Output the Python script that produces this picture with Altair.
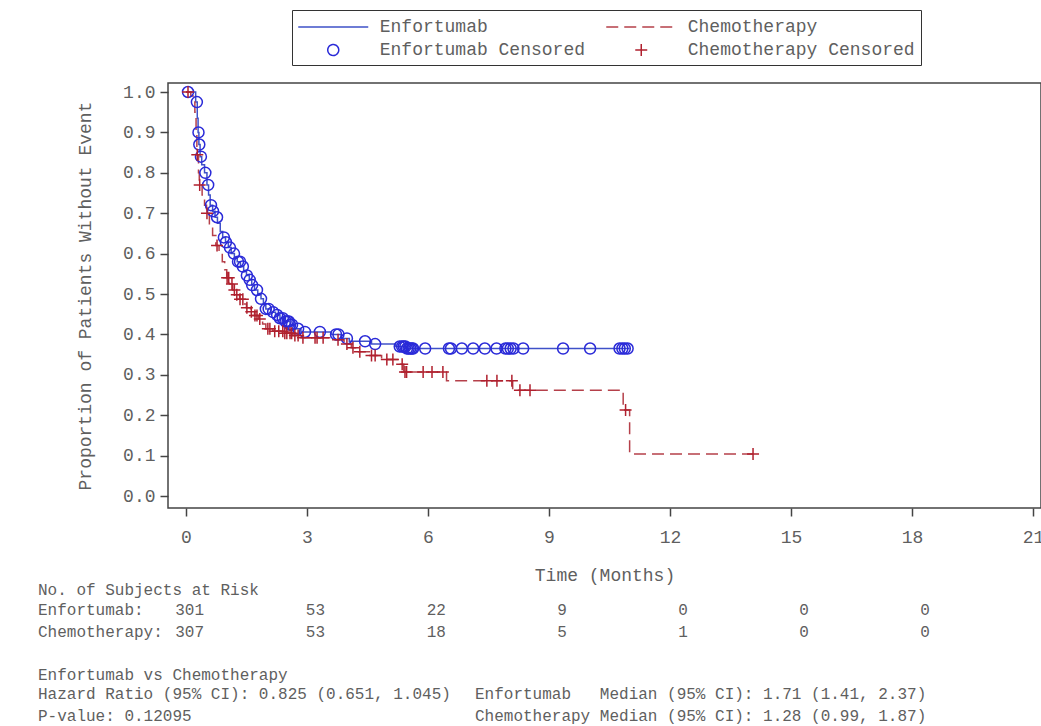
import altair as alt
import pandas as pd

# ---------------- data ----------------
series_names = ["Enfortumab", "Chemotherapy", "Enfortumab Censored", "Chemotherapy Censored"]

enf_time = [0, 0.24, 0.28, 0.30, 0.32, 0.35, 0.39, 0.46, 0.52, 0.56, 0.60, 0.66, 0.72, 0.78,
            0.85, 0.91, 0.98, 1.05, 1.12, 1.20, 1.27, 1.35, 1.43, 1.50, 1.57, 1.63, 1.70, 1.78,
            1.86, 1.92, 1.98, 2.10, 2.22, 2.33, 2.45, 2.58, 2.70, 2.85, 3.60, 3.85, 4.05, 4.60,
            5.20, 5.45, 11.0]
enf_surv = [1.0, 0.975, 0.935, 0.90, 0.87, 0.84, 0.82, 0.80, 0.77, 0.745, 0.72, 0.705, 0.69, 0.675,
            0.655, 0.64, 0.628, 0.615, 0.60, 0.59, 0.58, 0.568, 0.556, 0.546, 0.535, 0.522, 0.51, 0.498,
            0.488, 0.474, 0.463, 0.455, 0.448, 0.44, 0.432, 0.424, 0.414, 0.406, 0.40, 0.39, 0.383, 0.376,
            0.37, 0.365, 0.365]
enf_cens = [0.05, 0.27, 0.31, 0.33, 0.37, 0.48, 0.55, 0.62, 0.67, 0.77, 0.94, 0.99, 1.09, 1.19,
            1.29, 1.34, 1.41, 1.51, 1.58, 1.64, 1.76, 1.86, 1.98, 2.05, 2.16, 2.26, 2.33, 2.40,
            2.47, 2.52, 2.55, 2.58, 2.63, 2.78, 2.95, 3.32, 3.72, 3.78, 3.99, 4.44, 4.69, 5.30,
            5.36, 5.40, 5.44, 5.48, 5.52, 5.56, 5.60, 5.63, 5.93, 6.52, 6.57, 6.84, 7.12, 7.41,
            7.70, 7.92, 7.98, 8.05, 8.12, 8.36, 9.35, 10.02, 10.75, 10.82, 10.88, 10.95]

chemo_time = [0, 0.12, 0.22, 0.25, 0.27, 0.31, 0.33, 0.40, 0.46, 0.51, 0.58, 0.66, 0.74, 0.82,
              0.90, 0.96, 1.01, 1.08, 1.16, 1.24, 1.33, 1.42, 1.50, 1.60, 1.70, 1.80, 1.90, 1.98,
              2.15, 2.45, 2.65, 2.80, 3.70, 3.92, 4.10, 4.28, 4.55, 4.85, 5.25, 5.40, 6.46, 8.10,
              10.84, 11.0, 14.06]
chemo_surv = [1.0, 0.99, 0.95, 0.90, 0.845, 0.80, 0.77, 0.745, 0.72, 0.70, 0.67, 0.645, 0.62, 0.60,
              0.58, 0.56, 0.54, 0.525, 0.51, 0.498, 0.487, 0.475, 0.466, 0.456, 0.447, 0.438, 0.426, 0.414,
              0.408, 0.403, 0.397, 0.392, 0.387, 0.376, 0.367, 0.357, 0.348, 0.338, 0.326, 0.307, 0.285, 0.262,
              0.213, 0.104, 0.104]
chemo_cens = [0.05, 0.28, 0.34, 0.52, 0.77, 1.02, 1.06, 1.14, 1.20, 1.26, 1.34, 1.41, 1.51, 1.62,
              1.71, 1.76, 1.83, 2.03, 2.08, 2.20, 2.30, 2.40, 2.45, 2.50, 2.58, 2.62, 2.70, 2.78,
              2.90, 3.20, 3.25, 3.40, 3.77, 3.99, 4.14, 4.31, 4.60, 4.69, 4.98, 5.13, 5.36, 5.43,
              5.47, 5.88, 6.10, 6.37, 7.46, 7.71, 8.08, 8.28, 8.53, 10.90, 14.06]

risk_times = [0, 3, 6, 9, 12, 15, 18]
risk_enf = [301, 53, 22, 9, 0, 0, 0]
risk_chemo = [307, 53, 18, 5, 1, 0, 0]

x_ticks = [0, 3, 6, 9, 12, 15, 18, 21]
y_ticks = [0.0, 0.1, 0.2, 0.3, 0.4, 0.5, 0.6, 0.7, 0.8, 0.9, 1.0]


def step_value(times, survs, t):
    v = survs[0]
    for tt, ss in zip(times, survs):
        if tt <= t:
            v = ss
        else:
            break
    return v


lines_df = pd.concat([
    pd.DataFrame({"time": enf_time, "surv": enf_surv, "series": "Enfortumab"}),
    pd.DataFrame({"time": chemo_time, "surv": chemo_surv, "series": "Chemotherapy"}),
])
cens_df = pd.concat([
    pd.DataFrame({"time": enf_cens,
                  "surv": [step_value(enf_time, enf_surv, t) for t in enf_cens],
                  "series": "Enfortumab Censored"}),
    pd.DataFrame({"time": chemo_cens,
                  "surv": [step_value(chemo_time, chemo_surv, t) for t in chemo_cens],
                  "series": "Chemotherapy Censored"}),
])
risk_enf_df = pd.DataFrame({"time": risk_times, "n": risk_enf})
risk_chemo_df = pd.DataFrame({"time": risk_times, "n": risk_chemo})

# ---------------- styling ----------------
FONT = "Liberation Mono"
TXT = "#5f5f5f"
W, H = 873, 425

# symbol size 400 -> one path unit = 10 px
LINE = "M-3.5,0H3.5"
CIRC = "M-0.55,0A0.55,0.55 0 1,1 0.55,0A0.55,0.55 0 1,1 -0.55,0Z"
PLUS = "M-0.6,0H0.6M0,-0.6V0.6"

color_scale = alt.Scale(domain=series_names, range=["#3f51c8", "#b5404a", "#2a2ad8", "#b0202e"])
shape_scale = alt.Scale(domain=series_names, range=[LINE, LINE, CIRC, PLUS])
dash_scale = alt.Scale(domain=series_names, range=[[1, 0], [12, 6], [1, 0], [1, 0]])

x_scale = alt.Scale(domain=[-0.446, 21.2], nice=False, zero=False)
y_scale = alt.Scale(domain=[-0.0297, 1.0223], nice=False, zero=False)

x_axis = alt.Axis(values=x_ticks, format="d", title="Time (Months)", grid=False, domain=False,
                  tickSize=8, tickColor="#444", tickWidth=1.5, labelPadding=12,
                  labelFont=FONT, labelFontSize=18, labelColor=TXT,
                  titleFont=FONT, titleFontSize=18, titleColor=TXT, titleFontWeight="normal",
                  titlePadding=20)
y_axis = alt.Axis(values=y_ticks, format=".1f", title="Proportion of Patients Without Event",
                  grid=False, domain=False, tickSize=8, tickColor="#444", tickWidth=1.5,
                  labelPadding=5, labelFont=FONT, labelFontSize=18, labelColor=TXT,
                  titleFont=FONT, titleFontSize=18, titleColor=TXT, titleFontWeight="normal",
                  titlePadding=28)

X = alt.X("time:Q", scale=x_scale, axis=x_axis)
Y = alt.Y("surv:Q", scale=y_scale, axis=y_axis)

lines = alt.Chart(lines_df).mark_line(interpolate="step-after", strokeWidth=1.5).encode(
    x=X, y=Y,
    color=alt.Color("series:N", scale=color_scale, title=None),
    strokeDash=alt.StrokeDash("series:N", scale=dash_scale, title=None),
)

points = alt.Chart(cens_df).mark_point(filled=False, size=400, strokeWidth=1.5, opacity=1).encode(
    x=X, y=Y,
    color=alt.Color("series:N", scale=color_scale, title=None),
    shape=alt.Shape("series:N", scale=shape_scale, title=None),
)

risk_style = dict(align="right", baseline="middle", dx=18, font=FONT, fontSize=16, color=TXT)
risk1 = alt.Chart(risk_enf_df).mark_text(**risk_style).encode(
    x=X, y=alt.value(527), text=alt.Text("n:Q", format="d"))
risk2 = alt.Chart(risk_chemo_df).mark_text(**risk_style).encode(
    x=X, y=alt.value(549), text=alt.Text("n:Q", format="d"))


def note(s, px, py):
    return alt.Chart(pd.DataFrame({"label": [s]})).mark_text(
        align="left", baseline="middle", font=FONT, fontSize=16, color=TXT
    ).encode(x=alt.value(px), y=alt.value(py), text="label:N")


NB = "\u00a0"
notes = [
    note("No. of Subjects at Risk", -130, 507),
    note("Enfortumab:", -130, 527),
    note("Chemotherapy:", -130, 549),
    note("Enfortumab vs Chemotherapy", -130, 592),
    note("Hazard Ratio (95% CI): 0.825 (0.651, 1.045)", -130, 611),
    note("P-value: 0.12095", -130, 633),
    note("Enfortumab" + NB * 3 + "Median (95% CI): 1.71 (1.41, 2.37)", 307, 611),
    note("Chemotherapy Median (95% CI): 1.28 (0.99, 1.87)", 307, 633),
]

chart = alt.layer(lines, points, risk1, risk2, *notes).properties(
    width=W, height=H,
    padding={"left": 168, "top": 83, "right": 0, "bottom": 218},
    autosize=alt.AutoSizeParams(type="none"),
    background="white",
).configure_view(
    stroke="#444", strokeWidth=1.5
).configure_legend(
    orient="none", legendX=124, legendY=-73, direction="horizontal", columns=2,
    columnPadding=18, rowPadding=3,
    padding=6, strokeColor="#333", fillColor="white",
    labelFont=FONT, labelFontSize=18, labelColor=TXT, labelOffset=35.5, labelLimit=400,
    symbolSize=400, symbolOffset=24.25, symbolStrokeWidth=1.5, symbolFillColor="transparent",
)

chart.save("out.html", embed_options={"renderer": "svg", "actions": False})
